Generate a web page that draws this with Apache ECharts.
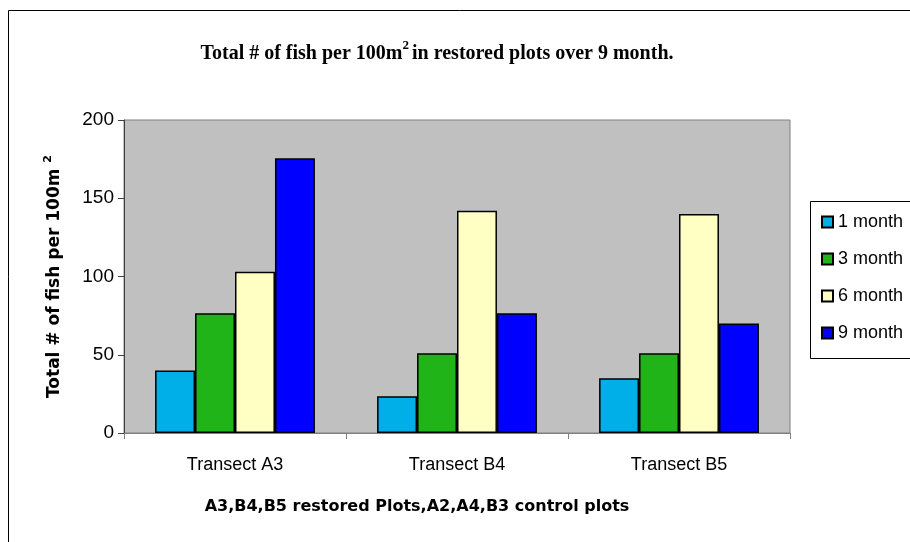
<!DOCTYPE html>
<html>
<head>
<meta charset="utf-8">
<script src="https://cdn.jsdelivr.net/npm/echarts@6/dist/echarts.min.js"></script>
<style>
  html, body { margin: 0; padding: 0; background: #fff; }
  #chart { width: 910px; height: 542px; }
</style>
</head>
<body>
<div id="chart"></div>
<script>
  // data
  const categories = ['Transect A3', 'Transect B4', 'Transect B5']
  const seriesNames = ['1 month', '3 month', '6 month', '9 month']
  const month1 = [40, 23.5, 35]
  const month3 = [76.5, 51, 51]
  const month6 = [103, 142, 140]
  const month9 = [175.5, 76.5, 70]
  const yTicks = [0, 50, 100, 150, 200]

  const colors = ['#00AEE8', '#20B419', '#FFFFC4', '#0000FF']
  const values = [month1, month3, month6, month9]

  const chart = echarts.init(document.getElementById('chart'))

  const option = {
    animation: false,
    backgroundColor: '#fff',
    title: {
      text: 'Total # of fish per 100m{sup|2}in restored plots over 9 month.',
      left: 432,
      textAlign: 'center',
      top: 34,
      textStyle: {
        fontFamily: 'Liberation Serif',
        fontWeight: 'bold',
        fontSize: 20,
        color: '#000',
        rich: {
          sup: {
            fontFamily: 'Liberation Serif',
            fontWeight: 'bold',
            fontSize: 13,
            verticalAlign: 'bottom',
            padding: [0, 3, 17, 0]
          }
        }
      }
    },
    grid: {
      left: 124,
      right: 120,
      top: 120,
      bottom: 109,
      show: true,
      backgroundColor: '#C0C0C0',
      borderColor: '#808080',
      borderWidth: 1
    },
    legend: {
      orient: 'vertical',
      left: 816,
      top: 208,
      itemGap: 19,
      itemWidth: 11,
      itemHeight: 11,
      itemTextGap: 6,
      icon: 'rect',
      textStyle: { fontFamily: 'Liberation Sans', fontSize: 18, color: '#000', padding: [0, 0, 0, 0] },
      data: seriesNames
    },
    xAxis: {
      type: 'category',
      data: categories,
      name: 'A3,B4,B5 restored Plots,A2,A4,B3 control plots',
      nameLocation: 'middle',
      nameGap: 66,
      nameTextStyle: { fontFamily: 'DejaVu Sans', fontWeight: 'bold', fontSize: 16, color: '#000', padding: [0, 80, 0, 0] },
      axisLine: { lineStyle: { color: '#808080', width: 1 } },
      axisTick: { show: true, length: 6, lineStyle: { color: '#808080' } },
      axisLabel: { fontFamily: 'Liberation Sans', fontSize: 18, color: '#000', margin: 23 }
    },
    yAxis: {
      type: 'value',
      min: 0,
      max: 200,
      interval: 50,
      name: 'Total # of fish per 100m {sup|2}',
      nameLocation: 'middle',
      nameGap: 58,
      nameTextStyle: {
        fontFamily: 'DejaVu Sans', fontWeight: 'bold', fontSize: 17, color: '#000',
        rich: {
          sup: { fontFamily: 'DejaVu Sans', fontWeight: 'bold', fontSize: 11, verticalAlign: 'bottom', padding: [0, 0, 12, 0] }
        }
      },
      axisLine: { show: true, lineStyle: { color: '#404040', width: 1 } },
      axisTick: { show: true, length: 6, lineStyle: { color: '#404040' } },
      splitLine: { show: false },
      axisLabel: {
        fontFamily: 'Liberation Sans', fontSize: 19, color: '#000', margin: 10,
        formatter: v => yTicks.includes(v) ? String(v) : ''
      }
    },
    graphic: [
      { type: 'rect', shape: { x: 8.5, y: 10.5, width: 1000, height: 1000 }, style: { fill: 'none', stroke: '#000', lineWidth: 1 }, silent: true, z: -1 },
      { type: 'rect', shape: { x: 810.5, y: 201.5, width: 200, height: 157 }, style: { fill: '#fff', stroke: '#000', lineWidth: 1 }, silent: true, z: 0 }
    ],
    series: seriesNames.map((name, i) => ({
      name: name,
      type: 'bar',
      data: values[i],
      barGap: '0%',
      barCategoryGap: '28%',
      itemStyle: { color: colors[i], borderColor: '#000', borderWidth: 1.5 }
    }))
  }

  chart.setOption(option)
</script>
</body>
</html>
